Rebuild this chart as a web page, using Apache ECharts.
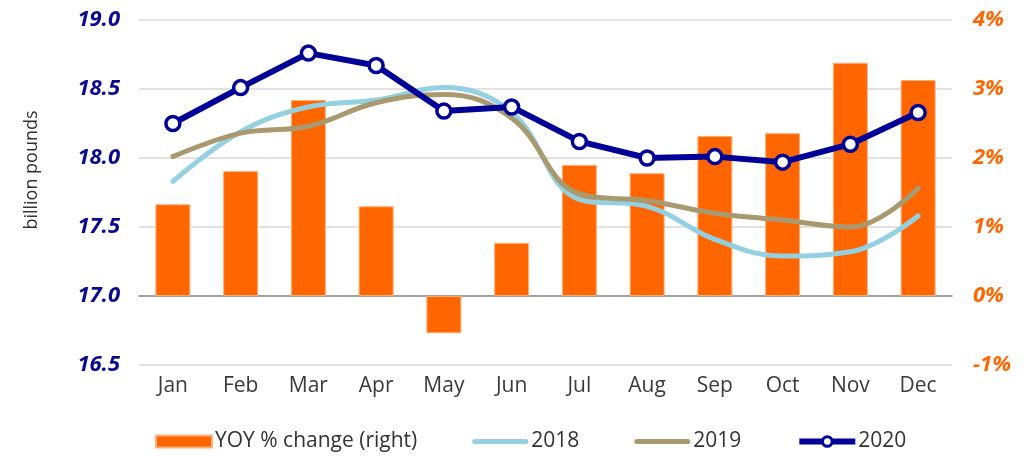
<!DOCTYPE html>
<html>
<head>
<meta charset="utf-8">
<script src="https://cdn.jsdelivr.net/npm/echarts@6/dist/echarts.min.js"></script>
<style>
  html, body { margin: 0; padding: 0; background: #fff; }
  #chart { width: 1031px; height: 456px; }
</style>
</head>
<body>
<div id="chart"></div>
<script>
// data
var months = ['Jan', 'Feb', 'Mar', 'Apr', 'May', 'Jun', 'Jul', 'Aug', 'Sep', 'Oct', 'Nov', 'Dec'];
var yoyChange = [1.33, 1.81, 2.84, 1.30, -0.54, 0.77, 1.90, 1.78, 2.32, 2.36, 3.38, 3.13]; // % (right axis)
var sales2018 = [17.83, 18.19, 18.37, 18.42, 18.51, 18.33, 17.70, 17.65, 17.41, 17.29, 17.32, 17.58];
var sales2019 = [18.01, 18.18, 18.23, 18.40, 18.46, 18.29, 17.74, 17.69, 17.60, 17.55, 17.50, 17.78];
var sales2020 = [18.25, 18.51, 18.76, 18.67, 18.34, 18.37, 18.12, 18.00, 18.01, 17.97, 18.10, 18.33];

var font = '"Open Sans", "Noto Sans", sans-serif';
// rounded bar used as legend icon for the plain lines
var lineIcon = 'path://M2.5,0 L53.5,0 A2.5,2.5 0 0 1 53.5,5 L2.5,5 A2.5,2.5 0 0 1 2.5,0 Z';

var chart = echarts.init(document.getElementById('chart'));
chart.setOption({
    animation: false,
    grid: { left: 139, right: 79, top: 20, bottom: 91 },
    graphic: [{ // left axis title
        type: 'text',
        x: 32, y: 170,
        rotation: Math.PI / 2,
        style: {
            text: 'billion pounds',
            font: '18px ' + font,
            fill: '#333',
            textAlign: 'center',
            textVerticalAlign: 'middle'
        }
    }],
    legend: {
        left: 155, top: 431,
        padding: 0,
        itemGap: 55,
        itemWidth: 56, itemHeight: 12,
        textStyle: { fontFamily: font, fontSize: 21, color: '#333', padding: [0, 0, 0, -2] },
        data: [
            { name: 'YOY % change (right)', icon: 'rect' },
            { name: '2018', icon: lineIcon },
            { name: '2019', icon: lineIcon },
            { name: '2020', lineStyle: { width: 6 }, itemStyle: { color: '#fff', borderColor: '#000099', borderWidth: 3 } }
        ]
    },
    xAxis: {
        type: 'category',
        data: months,
        axisLine: { lineStyle: { color: '#8c8c8c', width: 1.5 } },
        axisTick: { show: false },
        axisLabel: { fontFamily: font, fontSize: 21, color: '#3a3a3a', margin: 11 }
    },
    yAxis: [{
        type: 'value',
        min: 16.5, max: 19.0, interval: 0.5,
        axisLine: { show: false },
        axisTick: { show: false },
        splitLine: { lineStyle: { color: '#d9d9d9', width: 1.5 } },
        axisLabel: {
            fontFamily: font, fontSize: 22, fontWeight: 'bold', fontStyle: 'italic',
            color: '#0a0a8c', margin: 19,
            formatter: function (v) { return v.toFixed(1); }
        }
    }, {
        type: 'value',
        min: -1, max: 4, interval: 1,
        axisLine: { show: false },
        axisTick: { show: false },
        splitLine: { show: false },
        axisLabel: {
            fontFamily: font, fontSize: 22, fontWeight: 'bold', fontStyle: 'italic',
            color: '#ff6600', margin: 21,
            formatter: '{value}%'
        }
    }],
    series: [{
        name: 'YOY % change (right)',
        type: 'bar',
        yAxisIndex: 1,
        barWidth: 35,
        itemStyle: { color: '#ff6600', borderColor: '#ffb07a', borderWidth: 1 },
        data: yoyChange
    }, {
        name: '2018',
        type: 'line',
        smooth: 0.4,
        symbol: 'none',
        lineStyle: { color: '#92d0e2', width: 5, cap: 'round' },
        itemStyle: { color: '#92d0e2' },
        data: sales2018
    }, {
        name: '2019',
        type: 'line',
        smooth: 0.4,
        symbol: 'none',
        lineStyle: { color: '#a89a6e', width: 5, cap: 'round' },
        itemStyle: { color: '#a89a6e' },
        data: sales2019
    }, {
        name: '2020',
        type: 'line',
        symbol: 'circle',
        symbolSize: 14,
        showAllSymbol: true,
        lineStyle: { color: '#000099', width: 6 },
        itemStyle: { color: '#ffffff', borderColor: '#000099', borderWidth: 3.5 },
        data: sales2020
    }]
});
</script>
</body>
</html>
